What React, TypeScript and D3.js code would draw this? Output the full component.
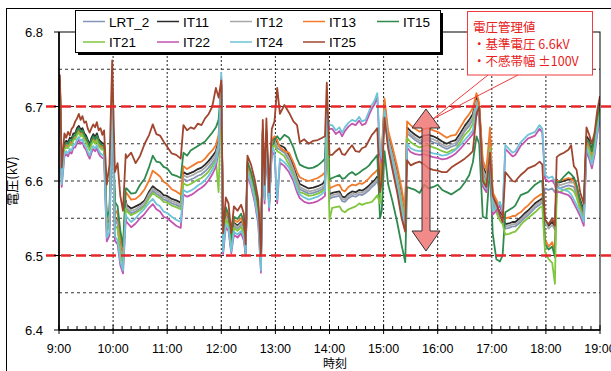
import * as d3 from "d3";

// time axis: minutes after 9:00
const hourLabels = ["9:00", "10:00", "11:00", "12:00", "13:00", "14:00", "15:00", "16:00", "17:00", "18:00", "19:00"];
const yTicks = [6.4, 6.5, 6.6, 6.7, 6.8];
const yGrid = [6.45, 6.5, 6.55, 6.6, 6.65, 6.7, 6.75];
const limits = [6.5, 6.7];

const times = [
  0, 1, 3, 6, 8, 10, 12, 14, 16, 18, 20, 22, 24, 26, 28, 30, 32, 34, 36, 38, 40, 42, 44, 46, 48, 50,
  53, 56, 59, 62, 65, 68, 71, 74,
  75, 80, 85, 90, 95, 100, 104, 108, 112, 116, 120, 125, 130, 135,
  138, 142, 146, 150, 154, 158, 162, 166, 170, 174, 177, 180, 182, 185, 188, 191, 194, 198, 202, 205, 207, 209, 213, 217, 221, 224, 226, 228, 230, 233, 236, 239,
  242, 245, 250, 255, 260, 264, 267, 272, 277, 282, 287, 292, 295, 297,
  300, 303, 307, 311, 314, 317, 321, 325, 329, 333, 336, 340, 344, 347, 350, 353, 356, 358, 361,
  365, 370, 375, 380, 384, 386,
  390, 395, 400, 405, 410, 415, 420, 425, 430, 435, 440, 445, 450, 455, 459, 463, 466, 470, 474, 478, 481, 485, 489, 492,
  495, 499, 503, 506, 509, 512, 516, 520, 524, 528, 533, 536, 539, 543, 547, 550, 552,
  555, 560, 565, 568, 571, 574, 578, 582, 585, 588, 591, 594, 597, 600,
];

const LRT_2 = [
  6.697, 6.730, 6.604, 6.645, 6.648, 6.646, 6.651, 6.650, 6.657, 6.658, 6.664, 6.667, 6.663, 6.665, 6.658, 6.655, 6.649, 6.643, 6.651, 6.656, 6.652, 6.657, 6.650, 6.646, 6.645, 6.643,
  6.537, 6.543, 6.706, 6.547, 6.542, 6.507, 6.492, 6.568,
  6.562, 6.557, 6.559, 6.563, 6.568, 6.580, 6.587, 6.583, 6.580, 6.575, 6.574, 6.570, 6.568, 6.565,
  6.603, 6.600, 6.602, 6.604, 6.607, 6.609, 6.613, 6.618, 6.624, 6.631, 6.647, 6.726, 6.508, 6.551, 6.544, 6.508, 6.540, 6.536, 6.541, 6.531, 6.503, 6.616, 6.603, 6.582, 6.554, 6.487, 6.664, 6.578, 6.662, 6.568, 6.648, 6.652,
  6.644, 6.642, 6.638, 6.628, 6.613, 6.598, 6.589, 6.586, 6.583, 6.584, 6.586, 6.589, 6.593, 6.688,
  6.576, 6.578, 6.579, 6.580, 6.573, 6.572, 6.577, 6.580, 6.579, 6.582, 6.581, 6.584, 6.588, 6.592, 6.595, 6.600, 6.589, 6.625, 6.697,
  6.654, 6.630, 6.604, 6.572, 6.545, 6.664,
  6.660, 6.655, 6.651, 6.654, 6.655, 6.652, 6.650, 6.646, 6.643, 6.646, 6.648, 6.657, 6.667, 6.674, 6.683, 6.705, 6.692, 6.612, 6.600, 6.652, 6.570, 6.562, 6.552, 6.547,
  6.536, 6.537, 6.539, 6.539, 6.542, 6.545, 6.550, 6.554, 6.559, 6.564, 6.568, 6.571, 6.590, 6.588, 6.590, 6.585, 6.594,
  6.590, 6.592, 6.594, 6.593, 6.592, 6.583, 6.566, 6.551, 6.652, 6.646, 6.633, 6.649, 6.676, 6.696,
];

const IT11 = [
  6.702, 6.736, 6.610, 6.651, 6.654, 6.652, 6.658, 6.657, 6.664, 6.664, 6.671, 6.674, 6.669, 6.671, 6.664, 6.661, 6.655, 6.649, 6.658, 6.663, 6.659, 6.664, 6.656, 6.653, 6.651, 6.650,
  6.542, 6.548, 6.710, 6.552, 6.548, 6.512, 6.497, 6.574,
  6.568, 6.563, 6.566, 6.569, 6.574, 6.586, 6.593, 6.589, 6.586, 6.581, 6.580, 6.576, 6.574, 6.571,
  6.612, 6.609, 6.611, 6.613, 6.616, 6.618, 6.622, 6.627, 6.633, 6.640, 6.655, 6.730, 6.510, 6.555, 6.548, 6.510, 6.544, 6.540, 6.545, 6.535, 6.505, 6.620, 6.607, 6.586, 6.558, 6.490, 6.668, 6.582, 6.666, 6.572, 6.652, 6.658,
  6.650, 6.648, 6.645, 6.635, 6.620, 6.605, 6.596, 6.593, 6.590, 6.591, 6.593, 6.596, 6.600, 6.692,
  6.582, 6.584, 6.585, 6.586, 6.579, 6.578, 6.583, 6.586, 6.585, 6.588, 6.587, 6.590, 6.594, 6.598, 6.601, 6.606, 6.595, 6.632, 6.705,
  6.660, 6.637, 6.612, 6.580, 6.552, 6.672,
  6.667, 6.662, 6.658, 6.661, 6.662, 6.660, 6.657, 6.653, 6.650, 6.653, 6.655, 6.664, 6.674, 6.682, 6.690, 6.712, 6.700, 6.620, 6.608, 6.660, 6.578, 6.568, 6.558, 6.553,
  6.542, 6.543, 6.545, 6.545, 6.548, 6.551, 6.556, 6.560, 6.565, 6.570, 6.574, 6.577, 6.548, 6.540, 6.545, 6.538, 6.602,
  6.598, 6.600, 6.602, 6.603, 6.604, 6.592, 6.575, 6.560, 6.660, 6.655, 6.642, 6.658, 6.685, 6.705,
];

const IT12 = [
  6.699, 6.732, 6.606, 6.647, 6.650, 6.648, 6.653, 6.653, 6.659, 6.660, 6.666, 6.670, 6.665, 6.667, 6.660, 6.657, 6.651, 6.645, 6.653, 6.658, 6.655, 6.660, 6.652, 6.648, 6.647, 6.646,
  6.540, 6.545, 6.708, 6.550, 6.545, 6.510, 6.495, 6.571,
  6.565, 6.560, 6.562, 6.566, 6.571, 6.583, 6.590, 6.586, 6.583, 6.578, 6.577, 6.573, 6.571, 6.568,
  6.608, 6.605, 6.607, 6.609, 6.612, 6.614, 6.618, 6.623, 6.629, 6.636, 6.651, 6.728, 6.509, 6.553, 6.546, 6.509, 6.542, 6.538, 6.543, 6.533, 6.504, 6.618, 6.605, 6.584, 6.556, 6.489, 6.666, 6.580, 6.664, 6.570, 6.650, 6.655,
  6.647, 6.645, 6.641, 6.631, 6.616, 6.601, 6.592, 6.589, 6.586, 6.587, 6.589, 6.592, 6.596, 6.690,
  6.579, 6.581, 6.582, 6.583, 6.576, 6.575, 6.580, 6.583, 6.582, 6.585, 6.584, 6.587, 6.591, 6.595, 6.598, 6.603, 6.592, 6.628, 6.700,
  6.657, 6.634, 6.608, 6.576, 6.548, 6.668,
  6.663, 6.658, 6.654, 6.657, 6.658, 6.656, 6.653, 6.649, 6.646, 6.649, 6.651, 6.660, 6.670, 6.678, 6.686, 6.708, 6.696, 6.616, 6.604, 6.655, 6.574, 6.565, 6.555, 6.550,
  6.539, 6.540, 6.542, 6.542, 6.545, 6.548, 6.553, 6.557, 6.562, 6.567, 6.571, 6.574, 6.545, 6.536, 6.541, 6.535, 6.598,
  6.594, 6.596, 6.598, 6.598, 6.598, 6.587, 6.570, 6.555, 6.655, 6.650, 6.637, 6.653, 6.680, 6.700,
];

const IT13 = [
  6.699, 6.731, 6.605, 6.646, 6.648, 6.647, 6.651, 6.652, 6.658, 6.659, 6.665, 6.668, 6.664, 6.665, 6.659, 6.656, 6.650, 6.644, 6.652, 6.657, 6.653, 6.659, 6.651, 6.647, 6.646, 6.644,
  6.546, 6.552, 6.712, 6.562, 6.556, 6.524, 6.505, 6.584,
  6.584, 6.575, 6.576, 6.581, 6.589, 6.601, 6.614, 6.610, 6.606, 6.599, 6.596, 6.589, 6.586, 6.582,
  6.620, 6.616, 6.619, 6.622, 6.625, 6.626, 6.630, 6.636, 6.641, 6.648, 6.662, 6.730, 6.512, 6.560, 6.552, 6.512, 6.548, 6.545, 6.550, 6.540, 6.506, 6.624, 6.610, 6.590, 6.562, 6.492, 6.670, 6.585, 6.668, 6.575, 6.655, 6.660,
  6.655, 6.645, 6.640, 6.638, 6.625, 6.612, 6.605, 6.602, 6.600, 6.602, 6.604, 6.608, 6.612, 6.695,
  6.590, 6.592, 6.594, 6.595, 6.588, 6.586, 6.592, 6.595, 6.594, 6.597, 6.596, 6.599, 6.604, 6.608, 6.611, 6.615, 6.600, 6.640, 6.711,
  6.668, 6.645, 6.620, 6.590, 6.560, 6.680,
  6.675, 6.670, 6.666, 6.670, 6.671, 6.668, 6.666, 6.662, 6.658, 6.661, 6.662, 6.672, 6.682, 6.690, 6.698, 6.718, 6.705, 6.628, 6.615, 6.672, 6.585, 6.575, 6.565, 6.560,
  6.550, 6.551, 6.553, 6.553, 6.556, 6.558, 6.563, 6.567, 6.572, 6.577, 6.581, 6.583, 6.522, 6.512, 6.518, 6.505, 6.600,
  6.600, 6.602, 6.604, 6.603, 6.600, 6.590, 6.567, 6.555, 6.652, 6.648, 6.636, 6.652, 6.678, 6.698,
];

const IT15 = [
  6.700, 6.733, 6.607, 6.648, 6.651, 6.650, 6.655, 6.654, 6.661, 6.661, 6.668, 6.671, 6.666, 6.668, 6.661, 6.658, 6.652, 6.646, 6.655, 6.660, 6.656, 6.661, 6.653, 6.650, 6.648, 6.647,
  6.552, 6.560, 6.718, 6.572, 6.566, 6.534, 6.512, 6.590,
  6.590, 6.583, 6.584, 6.595, 6.603, 6.619, 6.634, 6.626, 6.625, 6.619, 6.617, 6.609, 6.607, 6.604,
  6.638, 6.634, 6.641, 6.644, 6.647, 6.650, 6.653, 6.659, 6.665, 6.672, 6.682, 6.728, 6.515, 6.565, 6.555, 6.515, 6.552, 6.549, 6.556, 6.545, 6.508, 6.626, 6.612, 6.592, 6.565, 6.495, 6.665, 6.580, 6.660, 6.570, 6.640, 6.655,
  6.660, 6.655, 6.662, 6.658, 6.645, 6.630, 6.622, 6.619, 6.617, 6.618, 6.621, 6.626, 6.630, 6.700,
  6.602, 6.604, 6.606, 6.608, 6.603, 6.604, 6.609, 6.612, 6.608, 6.611, 6.614, 6.617, 6.621, 6.626, 6.630, 6.635, 6.550, 6.560, 6.640,
  6.596, 6.572, 6.545, 6.514, 6.491, 6.592,
  6.590, 6.588, 6.584, 6.595, 6.590, 6.592, 6.595, 6.588, 6.585, 6.582, 6.586, 6.590, 6.598, 6.608, 6.625, 6.660, 6.650, 6.552, 6.550, 6.620, 6.530, 6.495, 6.492, 6.500,
  6.558, 6.561, 6.564, 6.567, 6.574, 6.581, 6.583, 6.585, 6.590, 6.595, 6.599, 6.600, 6.515, 6.508, 6.512, 6.498, 6.598,
  6.599, 6.606, 6.612, 6.609, 6.605, 6.595, 6.572, 6.558, 6.655, 6.652, 6.640, 6.655, 6.680, 6.700,
];

const IT21 = [
  6.695, 6.728, 6.601, 6.643, 6.645, 6.644, 6.649, 6.648, 6.655, 6.656, 6.662, 6.665, 6.660, 6.662, 6.655, 6.652, 6.646, 6.641, 6.649, 6.654, 6.650, 6.655, 6.647, 6.644, 6.642, 6.641,
  6.533, 6.540, 6.704, 6.540, 6.536, 6.502, 6.488, 6.563,
  6.560, 6.554, 6.557, 6.561, 6.566, 6.577, 6.584, 6.580, 6.577, 6.572, 6.571, 6.567, 6.565, 6.562,
  6.597, 6.594, 6.596, 6.599, 6.602, 6.604, 6.608, 6.613, 6.620, 6.628, 6.585, 6.720, 6.507, 6.548, 6.541, 6.507, 6.537, 6.533, 6.538, 6.529, 6.502, 6.614, 6.600, 6.579, 6.551, 6.485, 6.662, 6.576, 6.660, 6.566, 6.646, 6.648,
  6.640, 6.638, 6.633, 6.622, 6.608, 6.593, 6.585, 6.583, 6.580, 6.581, 6.583, 6.586, 6.590, 6.686,
  6.548, 6.564, 6.565, 6.566, 6.560, 6.558, 6.562, 6.564, 6.566, 6.570, 6.568, 6.570, 6.571, 6.572, 6.576, 6.581, 6.570, 6.615, 6.690,
  6.650, 6.626, 6.600, 6.568, 6.542, 6.658,
  6.652, 6.648, 6.645, 6.647, 6.648, 6.645, 6.643, 6.640, 6.638, 6.641, 6.643, 6.652, 6.662, 6.668, 6.677, 6.700, 6.688, 6.605, 6.595, 6.645, 6.565, 6.558, 6.547, 6.542,
  6.528, 6.529, 6.531, 6.532, 6.536, 6.541, 6.546, 6.550, 6.554, 6.558, 6.564, 6.566, 6.505, 6.495, 6.490, 6.462, 6.588,
  6.585, 6.588, 6.590, 6.589, 6.586, 6.578, 6.562, 6.548, 6.648, 6.642, 6.628, 6.645, 6.672, 6.692,
];

const IT22 = [
  6.687, 6.718, 6.592, 6.633, 6.636, 6.633, 6.639, 6.637, 6.645, 6.645, 6.651, 6.655, 6.650, 6.652, 6.645, 6.642, 6.635, 6.630, 6.638, 6.643, 6.640, 6.644, 6.637, 6.633, 6.631, 6.630,
  6.519, 6.527, 6.697, 6.520, 6.515, 6.487, 6.476, 6.549,
  6.545, 6.538, 6.543, 6.550, 6.556, 6.564, 6.569, 6.562, 6.559, 6.552, 6.550, 6.545, 6.540, 6.537,
  6.582, 6.579, 6.581, 6.584, 6.588, 6.591, 6.595, 6.601, 6.609, 6.619, 6.640, 6.740, 6.502, 6.538, 6.533, 6.503, 6.528, 6.524, 6.530, 6.520, 6.500, 6.608, 6.593, 6.572, 6.542, 6.477, 6.655, 6.570, 6.652, 6.560, 6.640, 6.635,
  6.570, 6.625, 6.620, 6.612, 6.600, 6.585, 6.577, 6.572, 6.570, 6.571, 6.573, 6.577, 6.580, 6.687,
  6.670, 6.670, 6.663, 6.667, 6.660, 6.667, 6.673, 6.677, 6.675, 6.681, 6.675, 6.677, 6.689, 6.697, 6.703, 6.713, 6.635, 6.625, 6.690,
  6.649, 6.621, 6.592, 6.557, 6.534, 6.645,
  6.639, 6.636, 6.635, 6.636, 6.634, 6.632, 6.631, 6.629, 6.630, 6.633, 6.637, 6.643, 6.650, 6.657, 6.663, 6.695, 6.685, 6.593, 6.585, 6.635, 6.555, 6.560, 6.567, 6.555,
  6.643, 6.638, 6.633, 6.635, 6.641, 6.647, 6.652, 6.657, 6.659, 6.661, 6.670, 6.665, 6.603, 6.599, 6.601, 6.595, 6.585,
  6.585, 6.583, 6.581, 6.577, 6.570, 6.563, 6.553, 6.540, 6.640, 6.630, 6.617, 6.635, 6.663, 6.684,
];

const IT24 = [
  6.690, 6.722, 6.596, 6.637, 6.640, 6.637, 6.643, 6.641, 6.649, 6.649, 6.656, 6.659, 6.654, 6.656, 6.649, 6.646, 6.639, 6.634, 6.642, 6.647, 6.644, 6.648, 6.641, 6.637, 6.635, 6.634,
  6.524, 6.532, 6.700, 6.526, 6.520, 6.492, 6.480, 6.555,
  6.552, 6.545, 6.550, 6.557, 6.563, 6.571, 6.576, 6.569, 6.566, 6.559, 6.557, 6.552, 6.548, 6.545,
  6.588, 6.585, 6.587, 6.590, 6.594, 6.597, 6.601, 6.607, 6.615, 6.625, 6.645, 6.745, 6.505, 6.542, 6.537, 6.505, 6.532, 6.528, 6.533, 6.525, 6.502, 6.612, 6.597, 6.576, 6.546, 6.480, 6.660, 6.575, 6.658, 6.565, 6.645, 6.640,
  6.575, 6.630, 6.625, 6.618, 6.605, 6.590, 6.582, 6.578, 6.575, 6.577, 6.579, 6.583, 6.586, 6.690,
  6.675, 6.675, 6.668, 6.672, 6.665, 6.672, 6.678, 6.682, 6.680, 6.686, 6.680, 6.682, 6.694, 6.702, 6.708, 6.718, 6.640, 6.630, 6.695,
  6.654, 6.626, 6.597, 6.562, 6.538, 6.650,
  6.644, 6.641, 6.640, 6.641, 6.639, 6.637, 6.636, 6.634, 6.635, 6.638, 6.642, 6.648, 6.655, 6.662, 6.668, 6.700, 6.690, 6.598, 6.590, 6.640, 6.560, 6.565, 6.572, 6.560,
  6.648, 6.643, 6.638, 6.640, 6.646, 6.652, 6.657, 6.662, 6.664, 6.666, 6.675, 6.670, 6.608, 6.604, 6.606, 6.600, 6.590,
  6.590, 6.588, 6.586, 6.582, 6.575, 6.568, 6.558, 6.545, 6.645, 6.635, 6.622, 6.640, 6.668, 6.688,
];

const IT25 = [
  6.706, 6.742, 6.618, 6.664, 6.658, 6.666, 6.661, 6.670, 6.673, 6.680, 6.684, 6.690, 6.682, 6.687, 6.678, 6.680, 6.670, 6.665, 6.671, 6.676, 6.672, 6.679, 6.668, 6.671, 6.662, 6.668,
  6.595, 6.622, 6.762, 6.612, 6.624, 6.580, 6.560, 6.636,
  6.631, 6.638, 6.624, 6.634, 6.650, 6.662, 6.676, 6.663, 6.661, 6.653, 6.646, 6.637, 6.635, 6.630,
  6.675, 6.668, 6.672, 6.670, 6.677, 6.675, 6.684, 6.690, 6.700, 6.725, 6.712, 6.735, 6.530, 6.578, 6.570, 6.530, 6.566, 6.560, 6.568, 6.556, 6.515, 6.634, 6.622, 6.602, 6.575, 6.500, 6.682, 6.595, 6.684, 6.585, 6.670, 6.680,
  6.725, 6.690, 6.702, 6.692, 6.680, 6.675, 6.652, 6.656, 6.650, 6.654, 6.655, 6.658, 6.660, 6.732,
  6.635, 6.635, 6.640, 6.644, 6.636, 6.635, 6.642, 6.648, 6.640, 6.639, 6.644, 6.646, 6.655, 6.662, 6.666, 6.671, 6.585, 6.600, 6.685,
  6.644, 6.614, 6.585, 6.550, 6.532, 6.628,
  6.621, 6.624, 6.626, 6.622, 6.617, 6.615, 6.614, 6.612, 6.612, 6.618, 6.622, 6.626, 6.630, 6.635, 6.640, 6.690, 6.700, 6.600, 6.592, 6.638, 6.580, 6.570, 6.555, 6.545,
  6.612, 6.606, 6.600, 6.599, 6.604, 6.608, 6.612, 6.617, 6.619, 6.621, 6.626, 6.622, 6.548, 6.542, 6.550, 6.540, 6.632,
  6.635, 6.638, 6.642, 6.648, 6.620, 6.615, 6.585, 6.570, 6.672, 6.662, 6.650, 6.665, 6.695, 6.714,
];

const series = [
  { name: "LRT_2", color: "#8494b8", values: LRT_2 },
  { name: "IT11", color: "#2b2b2b", values: IT11 },
  { name: "IT12", color: "#a8a8a8", values: IT12 },
  { name: "IT13", color: "#f27a2c", values: IT13 },
  { name: "IT15", color: "#2f8a4e", values: IT15 },
  { name: "IT21", color: "#80c63e", values: IT21 },
  { name: "IT22", color: "#c454b0", values: IT22 },
  { name: "IT24", color: "#6ec4d8", values: IT24 },
  { name: "IT25", color: "#a0462e", values: IT25 },
];

const note = ["電圧管理値", "・基準電圧 6.6kV", "・不感帯幅 ±100V"];

const W = 611;
const H = 371;
const left = 59;
const right = 600;
const top = 32;
const bottom = 330;

export default function App() {
  const x = d3.scaleLinear().domain([0, 600]).range([left, right]);
  const y = d3.scaleLinear().domain([6.4, 6.8]).range([bottom, top]);
  const line = d3
    .line<number>()
    .defined((_, i) => i < times.length)
    .x((_, i) => x(times[i]))
    .y((d) => y(d));

  const hours = d3.range(0, 601, 60);
  const minors = d3.range(0, 601, 10).filter((m) => m % 60 !== 0);
  const latin = "'Liberation Sans', Arial, sans-serif";
  const jp = "'Noto Sans CJK JP', sans-serif";

  // double arrow of the dead band
  const ax = 426;
  const aTop = 109;
  const aBot = 251;
  const arrow = [
    [ax, aTop], [ax + 14, aTop + 19], [ax + 4, aTop + 19], [ax + 4, aBot - 20], [ax + 14, aBot - 20],
    [ax, aBot], [ax - 14, aBot - 20], [ax - 4, aBot - 20], [ax - 4, aTop + 19], [ax - 14, aTop + 19],
  ];

  return (
    <svg
      width={W}
      height={H}
      style={{ position: "absolute", left: 0, top: 0, background: "#fff" }}
    >
      <rect x={6.5} y={8.5} width={700} height={500} fill="#fff" stroke="#000" strokeWidth={1} />
      <defs>
        <clipPath id="plot">
          <rect x={left} y={top} width={right - left} height={bottom - top} />
        </clipPath>
      </defs>

      {/* grid */}
      {hours.slice(1, -1).map((m) => (
        <line key={m} x1={x(m)} x2={x(m)} y1={top} y2={bottom} stroke="#222" strokeDasharray="2,2" />
      ))}
      {yGrid.map((v) => (
        <line key={v} x1={left} x2={right} y1={y(v)} y2={y(v)} stroke="#333" strokeDasharray="3,3" />
      ))}

      {/* data */}
      <g clipPath="url(#plot)">
        {series.map((s) => (
          <path
            key={s.name}
            d={line(s.values) ?? ""}
            fill="none"
            stroke={s.color}
            strokeWidth={1.8}
            strokeLinejoin="round"
          />
        ))}
      </g>

      {/* limits */}
      {limits.map((v) => (
        <line key={v} x1={46} x2={611} y1={y(v)} y2={y(v)} stroke="#e8262a" strokeWidth={2.5} strokeDasharray="10,5" />
      ))}

      {/* frame and axes */}
      <rect x={left} y={top} width={right - left} height={bottom - top} fill="none" stroke="#000" strokeWidth={1} />
      <line x1={left} x2={left} y1={top} y2={bottom} stroke="#000" strokeWidth={1.6} />
      <line x1={left} x2={right} y1={bottom} y2={bottom} stroke="#000" strokeWidth={1.6} />
      {yTicks.map((v) => (
        <g key={v}>
          <line x1={left - 5} x2={left} y1={y(v)} y2={y(v)} stroke="#000" />
          <text x={43} y={y(v) + 5} textAnchor="end" fontSize={13} fontFamily={latin}>
            {v.toFixed(1)}
          </text>
        </g>
      ))}
      {minors.map((m) => (
        <line key={m} x1={x(m)} x2={x(m)} y1={bottom - 4} y2={bottom} stroke="#000" />
      ))}
      {hours.map((m, i) => (
        <g key={m}>
          <line x1={x(m)} x2={x(m)} y1={bottom - 5} y2={bottom + 4} stroke="#000" />
          <text x={x(m)} y={353} textAnchor="middle" fontSize={12.5} fontFamily={latin}>
            {hourLabels[i]}
          </text>
        </g>
      ))}
      <text x={335} y={368} textAnchor="middle" fontSize={12} fontFamily={jp}>
        時刻
      </text>
      <text
        transform="translate(17,181) rotate(-90)"
        textAnchor="middle"
        fontSize={13}
        fontFamily={jp}
      >
        電圧(kV)
      </text>

      {/* legend */}
      <rect x={78} y={13} width={365} height={42} fill="#000" />
      <rect x={75.5} y={10.5} width={365} height={42} fill="#fff" stroke="#000" />
      {series.map((s, i) => {
        const col = i % 5;
        const row = Math.floor(i / 5);
        const lx = [83, 157, 230, 303, 377][col];
        const ly = row === 0 ? 21.5 : 42;
        return (
          <g key={s.name}>
            <line x1={lx} x2={lx + 22} y1={ly} y2={ly} stroke={s.color} strokeWidth={1.5} />
            <text x={lx + 26} y={ly + 5} fontSize={13.5} fontFamily={latin}>
              {s.name}
            </text>
          </g>
        );
      })}

      {/* annotation */}
      <rect x={467.5} y={11.5} width={125} height={63.5} fill="#fff" stroke="#f03c3c" />
      <line x1={488} y1={75} x2={433} y2={119} stroke="#f03c3c" />
      <line x1={518} y1={75} x2={433} y2={119} stroke="#f03c3c" />
      {note.map((t, i) => (
        <text key={t} x={473} y={[32, 49, 66][i]} fontSize={12.5} fill="#e82020" fontFamily={jp}>
          {t}
        </text>
      ))}

      <polygon
        points={arrow.map((p) => p.join(",")).join(" ")}
        fill="#f07070"
        fillOpacity={0.82}
        stroke="#333"
        strokeWidth={1}
      />
    </svg>
  );
}
